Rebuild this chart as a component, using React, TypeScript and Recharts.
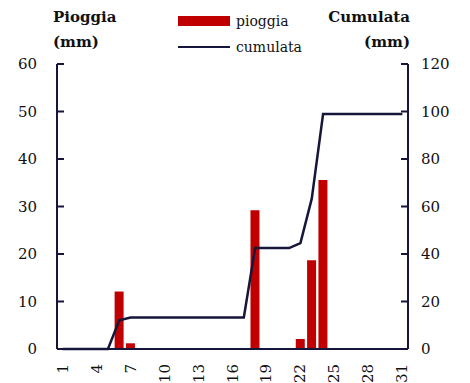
import React from 'react';
import { ComposedChart, Bar, Line, XAxis, YAxis } from 'recharts';

const days = [1, 2, 3, 4, 5, 6, 7, 8, 9, 10, 11, 12, 13, 14, 15, 16, 17, 18, 19, 20, 21, 22, 23, 24, 25, 26, 27, 28, 29, 30, 31];
const pioggia = [0, 0, 0, 0, 0, 12.1, 1.2, 0, 0, 0, 0, 0, 0, 0, 0, 0, 0, 29.2, 0, 0, 0, 2.1, 18.7, 35.6, 0, 0, 0, 0, 0, 0, 0];
const cumulata = [0, 0, 0, 0, 0, 12.1, 13.3, 13.3, 13.3, 13.3, 13.3, 13.3, 13.3, 13.3, 13.3, 13.3, 13.3, 42.5, 42.5, 42.5, 42.5, 44.6, 63.3, 98.9, 98.9, 98.9, 98.9, 98.9, 98.9, 98.9, 98.9];
const leftTicks = [0, 10, 20, 30, 40, 50, 60];
const rightTicks = [0, 20, 40, 60, 80, 100, 120];

const data = days.map((d, i) => ({ day: d, pioggia: pioggia[i], cumulata: cumulata[i] }));

const NAVY = '#16163a';
const RED = '#c00000';
const FONT = '"DejaVu Serif", serif';

const W = 470;
const H = 383;
const PLOT_LEFT = 57;
const PLOT_RIGHT = 408;
const PLOT_TOP = 64;
const PLOT_BOTTOM = 349;

const LeftTick = (props: any) => {
  const { y, payload } = props;
  return (
    <g>
      <line x1={PLOT_LEFT} x2={PLOT_LEFT + 7} y1={y} y2={y} stroke={NAVY} strokeWidth={2} />
      <text x={37} y={y} textAnchor="end" dominantBaseline="central" fontFamily={FONT} fontSize={15} fill="#111">
        {payload.value}
      </text>
    </g>
  );
};

const RightTick = (props: any) => {
  const { y, payload } = props;
  return (
    <g>
      <line x1={PLOT_RIGHT - 7} x2={PLOT_RIGHT} y1={y} y2={y} stroke={NAVY} strokeWidth={2} />
      <text x={421} y={y} textAnchor="start" dominantBaseline="central" fontFamily={FONT} fontSize={15} fill="#111">
        {payload.value}
      </text>
    </g>
  );
};

const BottomTick = (props: any) => {
  const { x, payload } = props;
  const ty = 364;
  return (
    <text
      x={x}
      y={ty}
      transform={`rotate(-90, ${x}, ${ty})`}
      textAnchor="end"
      dominantBaseline="central"
      fontFamily={FONT}
      fontSize={15}
      fill="#111"
    >
      {payload.value}
    </text>
  );
};

export default function App() {
  return (
    <div style={{ position: 'absolute', left: 0, top: 0, width: W, height: H, background: '#fff', fontFamily: FONT }}>
      <ComposedChart
        width={W}
        height={H}
        data={data}
        margin={{ top: PLOT_TOP, left: 0, right: 0, bottom: 0 }}
        barSize={9}
      >
        <XAxis
          dataKey="day"
          interval={2}
          height={H - PLOT_BOTTOM}
          axisLine={{ stroke: NAVY, strokeWidth: 2 }}
          tickLine={false}
          tick={<BottomTick />}
        />
        <YAxis
          yAxisId="left"
          orientation="left"
          width={PLOT_LEFT}
          domain={[0, 60]}
          ticks={leftTicks}
          axisLine={{ stroke: NAVY, strokeWidth: 2 }}
          tickLine={false}
          tick={<LeftTick />}
        />
        <YAxis
          yAxisId="right"
          orientation="right"
          width={W - PLOT_RIGHT}
          domain={[0, 120]}
          ticks={rightTicks}
          axisLine={{ stroke: NAVY, strokeWidth: 2 }}
          tickLine={false}
          tick={<RightTick />}
        />
        <Bar yAxisId="left" dataKey="pioggia" fill={RED} isAnimationActive={false} />
        <Line
          yAxisId="right"
          type="linear"
          dataKey="cumulata"
          stroke={NAVY}
          strokeWidth={2.5}
          dot={false}
          activeDot={false}
          isAnimationActive={false}
        />
      </ComposedChart>
      <div style={{ position: 'absolute', left: 53, top: 5, fontWeight: 'bold', fontSize: 15, lineHeight: '25px', color: '#111' }}>
        Pioggia<br />(mm)
      </div>
      <div style={{ position: 'absolute', right: W - 410, top: 5, fontWeight: 'bold', fontSize: 15, lineHeight: '25px', color: '#111', textAlign: 'right' }}>
        Cumulata<br />(mm)
      </div>
      <div style={{ position: 'absolute', left: 178, top: 8, fontSize: 14, color: '#111' }}>
        <div style={{ display: 'flex', alignItems: 'center', height: 26 }}>
          <div style={{ width: 52, height: 10, background: RED, marginRight: 6 }} />
          <span>pioggia</span>
        </div>
        <div style={{ display: 'flex', alignItems: 'center', height: 26 }}>
          <div style={{ width: 52, height: 2.5, background: NAVY, marginRight: 6 }} />
          <span>cumulata</span>
        </div>
      </div>
    </div>
  );
}
